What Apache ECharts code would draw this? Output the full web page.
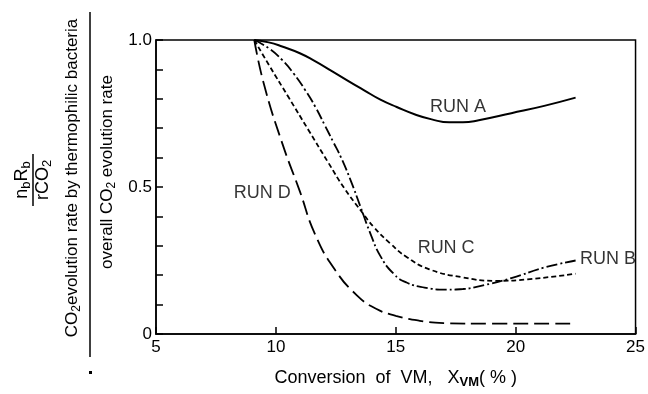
<!DOCTYPE html>
<html>
<head>
<meta charset="utf-8">
<script src="https://cdn.jsdelivr.net/npm/echarts@6/dist/echarts.min.js"></script>
<style>
html,body{margin:0;padding:0;background:#fff;}
#chart{width:648px;height:394px;}
</style>
</head>
<body>
<div id="chart"></div>
<script>
// ---- data ----
const runA = [[9.1,1.0],[9.7,0.992],[10.26,0.978],[11.0,0.955],[11.63,0.928],[12.3,0.896],[12.99,0.862],[13.7,0.828],[14.36,0.797],[15.04,0.772],[15.86,0.745],[16.5,0.730],[17.23,0.720],[17.8,0.720],[18.46,0.727],[19.82,0.751],[21.19,0.776],[22.5,0.804]];
const runB = [[9.1,1.0],[9.7,0.972],[10.26,0.932],[10.75,0.885],[11.22,0.83],[11.65,0.772],[12.04,0.71],[12.4,0.652],[12.72,0.60],[13.13,0.52],[13.54,0.43],[13.95,0.34],[14.36,0.265],[14.91,0.205],[15.45,0.175],[16.2,0.158],[17.09,0.151],[17.8,0.153],[18.46,0.162],[19.82,0.19],[21.19,0.226],[22.5,0.25]];
const runC = [[9.1,1.0],[9.71,0.915],[10.53,0.805],[11.35,0.695],[12.17,0.585],[12.86,0.495],[13.54,0.42],[14.09,0.363],[14.77,0.308],[15.45,0.262],[16.4,0.22],[17.77,0.193],[19.14,0.181],[20.5,0.186],[22.5,0.205]];
const runD = [[9.1,1.0],[9.5,0.85],[10.26,0.65],[11.0,0.485],[11.63,0.34],[12.45,0.22],[13.4,0.13],[14.2,0.085],[15.0,0.062],[16.0,0.045],[17.0,0.037],[19.0,0.035],[22.5,0.035]];

const runLabelNames = ['RUN A', 'RUN B', 'RUN C', 'RUN D'];
const runLabelX = [17.6, 23.85, 17.1, 9.43];
const runLabelY = [0.773, 0.255, 0.292, 0.48];

const xTickValues = [5, 10, 15, 20, 25];
const yLabelValues = [0, 0.5, 1.0];
const yLabelTexts = ['0', '0.5', '1.0'];

// ---- chart ----
const FONT = 'Liberation Sans';
const chart = echarts.init(document.getElementById('chart'), null, {renderer: 'canvas'});

function yFmt(v) {
  for (let i = 0; i < yLabelValues.length; i++) {
    if (Math.abs(v - yLabelValues[i]) < 1e-6) return yLabelTexts[i];
  }
  return '';
}

const mainRich = {
  m: {fontFamily: FONT, fontSize: 17, color: '#000', height: 17, lineHeight: 19, verticalAlign: 'top'},
  s: {fontFamily: FONT, fontSize: 12, color: '#000', height: 12, lineHeight: 19, verticalAlign: 'bottom'}
};
const fracRich = {
  m: {fontFamily: FONT, fontSize: 18, color: '#000', height: 18, lineHeight: 20, verticalAlign: 'top'},
  s: {fontFamily: FONT, fontSize: 13, color: '#000', height: 13, lineHeight: 20, verticalAlign: 'bottom'}
};

const lineSeries = (name, data, type, width) => ({
  name: name, type: 'line', data: data, smooth: 0.5, showSymbol: false,
  lineStyle: {color: '#000', width: width, type: type}, z: 3
});

chart.setOption({
  backgroundColor: '#fff',
  animation: false,
  grid: {left: 156, right: 5, top: 40, bottom: 54, show: true, borderColor: '#000', borderWidth: 1.5},
  xAxis: {
    type: 'value', min: 5, max: 25, interval: 5,
    axisLine: {show: true, lineStyle: {color: '#000', width: 1.5}},
    axisTick: {show: true, inside: true, length: 7, lineStyle: {color: '#000', width: 1.5}},
    axisLabel: {color: '#000', fontFamily: FONT, fontSize: 17, margin: 5,
      formatter: v => (xTickValues.indexOf(v) >= 0 ? String(v) : '')},
    splitLine: {show: false},
    name: '{m|Conversion  of  VM,   X}{s|VM}{m|( % )}',
    nameLocation: 'middle', nameGap: 35,
    nameTextStyle: {rich: {
      m: {fontFamily: FONT, fontSize: 18, color: '#000', height: 18, lineHeight: 20, verticalAlign: 'top'},
      s: {fontFamily: FONT, fontSize: 13, color: '#000', fontWeight: 'bold', height: 13, lineHeight: 20, verticalAlign: 'bottom'}
    }}
  },
  yAxis: {
    type: 'value', min: 0, max: 1, interval: 0.1,
    axisLine: {show: true, lineStyle: {color: '#000', width: 1.5}},
    axisTick: {show: true, inside: true, length: 7, lineStyle: {color: '#000', width: 1.5}},
    axisLabel: {color: '#000', fontFamily: FONT, fontSize: 17, margin: 4, formatter: yFmt},
    splitLine: {show: false}
  },
  graphic: [
    {type: 'text', x: 23, y: 180, rotation: Math.PI / 2, z: 10,
      style: {text: '{m|n}{s|b}{m|R}{s|b}', rich: fracRich, align: 'center', verticalAlign: 'middle'}},
    {type: 'line', z: 10, shape: {x1: 33, y1: 154, x2: 33, y2: 206}, style: {stroke: '#000', lineWidth: 1.5}},
    {type: 'text', x: 44, y: 180, rotation: Math.PI / 2, z: 10,
      style: {text: '{m|rCO}{s|2}', rich: fracRich, align: 'center', verticalAlign: 'middle'}},
    {type: 'text', x: 73, y: 178, rotation: Math.PI / 2, z: 10,
      style: {text: '{m|CO}{s|2}{m|evolution rate by thermophilic bacteria}', rich: mainRich, align: 'center', verticalAlign: 'middle'}},
    {type: 'line', z: 10, shape: {x1: 90, y1: 12, x2: 90, y2: 357}, style: {stroke: '#000', lineWidth: 1.5}},
    {type: 'text', x: 108, y: 172, rotation: Math.PI / 2, z: 10,
      style: {text: '{m|overall CO}{s|2}{m| evolution rate}', rich: mainRich, align: 'center', verticalAlign: 'middle'}},
    {type: 'rect', z: 10, shape: {x: 89, y: 371, width: 3, height: 3}, style: {fill: '#000'}}
  ],
  series: [
    lineSeries('RUN A', runA, 'solid', 2),
    lineSeries('RUN B', runB, [11, 3, 2, 3], 1.8),
    lineSeries('RUN C', runC, [5, 3], 1.8),
    lineSeries('RUN D', runD, [15, 6], 1.8),
    {
      type: 'scatter', symbolSize: 0, z: 4,
      data: runLabelNames.map((n, i) => ({name: n, value: [runLabelX[i], runLabelY[i]]})),
      label: {show: true, position: 'inside', formatter: p => p.name, color: '#000', fontFamily: FONT, fontSize: 18}
    }
  ]
});
</script>
</body>
</html>
